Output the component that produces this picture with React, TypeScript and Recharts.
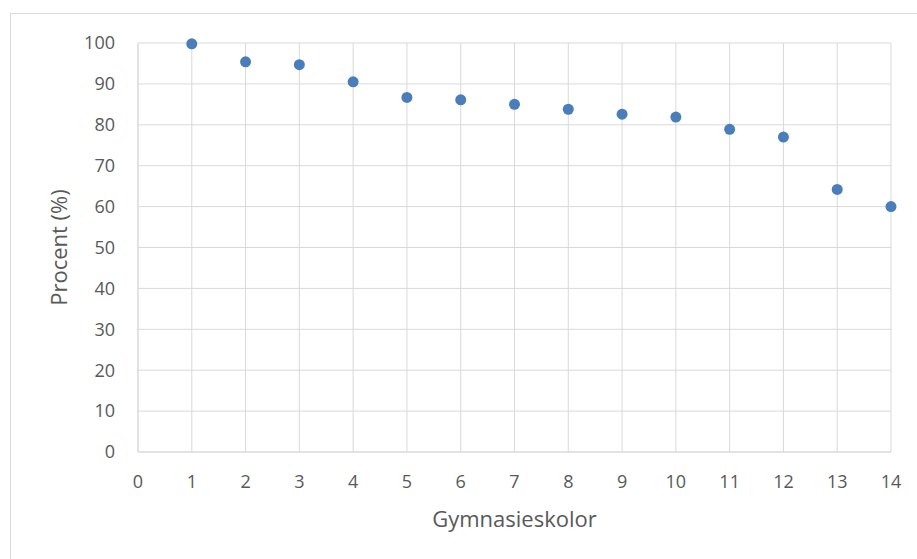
import React from 'react';
import { ScatterChart, Scatter, XAxis, YAxis, CartesianGrid } from 'recharts';

const schools = [1, 2, 3, 4, 5, 6, 7, 8, 9, 10, 11, 12, 13, 14];
const percent = [99.8, 95.4, 94.7, 90.5, 86.7, 86.1, 85.0, 83.8, 82.6, 81.9, 78.9, 77.0, 64.2, 60.0];
const xTicks = [0, 1, 2, 3, 4, 5, 6, 7, 8, 9, 10, 11, 12, 13, 14];
const yTicks = [0, 10, 20, 30, 40, 50, 60, 70, 80, 90, 100];

const data = schools.map((s, i) => ({ x: s, y: percent[i] }));

const FONT = '"Open Sans", "DejaVu Sans", sans-serif';
const TEXT = '#595959';
const GRID = '#d9d9d9';

export default function App() {
  return (
    <div style={{ position: 'absolute', left: 0, top: 0, width: 917, height: 559, background: '#fff', fontFamily: FONT }}>
      <div style={{ position: 'absolute', left: 10, top: 13, width: 907, height: 546, borderLeft: `1px solid ${GRID}`, borderTop: `1px solid ${GRID}` }} />
      <div style={{ position: 'absolute', left: 0, top: 0 }}>
        <ScatterChart width={917} height={559} margin={{ top: 43, right: 26, bottom: 27, left: 40 }}>
          <CartesianGrid stroke={GRID} strokeWidth={1} />
          <XAxis
            type="number"
            dataKey="x"
            domain={[0, 14]}
            ticks={xTicks}
            interval={0}
            height={80}
            axisLine={{ stroke: GRID }}
            tickLine={false}
            tickMargin={17}
            tick={{ fill: TEXT, fontSize: 18, fontFamily: FONT }}
            label={{ value: 'Gymnasieskolor', position: 'insideBottom', offset: 5, fill: TEXT, fontSize: 22, fontFamily: FONT }}
          />
          <YAxis
            type="number"
            dataKey="y"
            domain={[0, 100]}
            ticks={yTicks}
            interval={0}
            width={98}
            axisLine={{ stroke: GRID }}
            tickLine={false}
            tickMargin={17}
            tick={{ fill: TEXT, fontSize: 18, fontFamily: FONT }}
            label={{ value: 'Procent (%)', angle: -90, position: 'insideLeft', offset: 19, fill: TEXT, fontSize: 22, fontFamily: FONT, style: { textAnchor: 'middle' } }}
          />
          <Scatter data={data} fill="#4a7ebb" isAnimationActive={false} shape={(p: any) => <circle cx={p.cx} cy={p.cy} r={5.5} fill="#4a7ebb" />} />
        </ScatterChart>
      </div>
    </div>
  );
}
